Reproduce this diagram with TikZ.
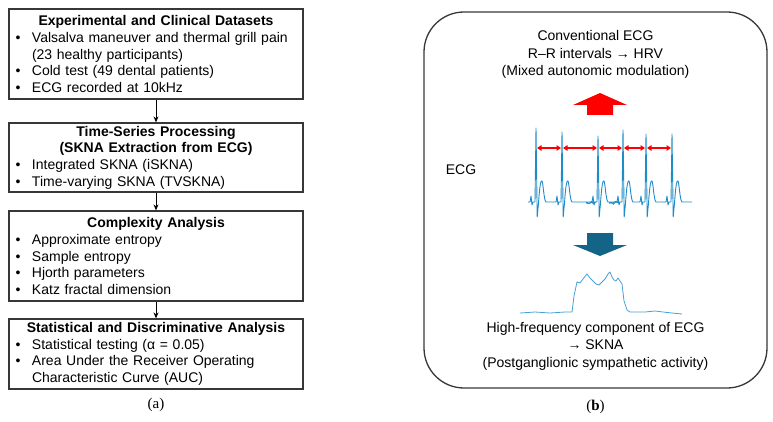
\documentclass[tikz,border=0pt]{standalone}
\usepackage{fontspec}
\setmainfont{Liberation Sans}
\newfontfamily\capfont{Liberation Serif}
\usetikzlibrary{arrows.meta, decorations.pathmorphing}
\definecolor{boxgray}{RGB}{55,55,55}
\definecolor{ecgblue}{RGB}{30,140,200}
\definecolor{sknablue}{RGB}{70,160,215}
\definecolor{arrowteal}{RGB}{20,100,135}
\definecolor{hrvred}{RGB}{255,0,0}

\newcommand{\bitem}{\makebox[19pt][l]{\hspace{2.5pt}\textbullet}}
\newcommand{\bcont}{\hspace*{19pt}}
\newcommand{\stagetitle}[1]{\makebox[286pt][c]{\textbf{#1}}}

\begin{document}
\begin{tikzpicture}[
  x=1pt, y=-1pt,
  every node/.style={font=\fontsize{14}{16.7}\selectfont},
  stagebox/.style={rectangle, draw=boxgray, line width=1.2pt, text width=286pt,
                   inner xsep=4pt, inner ysep=0pt, align=left},
  flow/.style={-{Stealth[length=6pt,width=5pt]}, line width=1pt},
  panel/.style={rectangle, draw=boxgray, line width=1.3pt, rounded corners=40pt,
                minimum width=343pt, minimum height=376pt},
  desc/.style={align=center, font=\fontsize{14}{17.5}\selectfont},
  ecgline/.style={ecgblue, line width=0.9pt, line join=round},
  sknaline/.style={sknablue, line width=0.8pt, line join=round},
  rrarrow/.style={{Triangle[length=4.5pt,width=5.5pt]}-{Triangle[length=4.5pt,width=5.5pt]},
                  hrvred, line width=1.4pt},
  caption/.style={font=\capfont\fontsize{15}{18}\selectfont}
]
\useasboundingbox (0,0) rectangle (773,422);
\pgfmathsetseed{7}

%--- (a) Pipeline ---%
\node[stagebox, minimum height=90pt] (data) at (156,54)
  {\stagetitle{Experimental and Clinical Datasets}\\
   \bitem Valsalva maneuver and thermal grill pain\\
   \bcont(23 healthy participants)\\
   \bitem Cold test (49 dental patients)\\
   \bitem ECG recorded at 10kHz};
\node[stagebox, minimum height=69pt] (proc) at (156,157.5)
  {\stagetitle{Time-Series Processing}\\
   \stagetitle{(SKNA Extraction from ECG)}\\
   \bitem Integrated SKNA (iSKNA)\\
   \bitem Time-varying SKNA (TVSKNA)};
\node[stagebox, minimum height=90pt] (cplx) at (156,256)
  {\stagetitle{Complexity Analysis}\\
   \bitem Approximate entropy\\
   \bitem Sample entropy\\
   \bitem Hjorth parameters\\
   \bitem Katz fractal dimension};
\node[stagebox, minimum height=70pt] (stat) at (156,354)
  {\stagetitle{Statistical and Discriminative Analysis}\\
   \bitem Statistical testing (α = 0.05)\\
   \bitem Area Under the Receiver Operating\\
   \bcont Characteristic Curve (AUC)};

\draw[flow] (data) -- (proc);
\draw[flow] (proc) -- (cplx);
\draw[flow] (cplx) -- (stat);

\node[caption] (capa) at (156,405) {(a)};

%--- (b) ECG panel ---%
\node[panel] (ecgpanel) at (595.5,200) {};
\node[desc] (conv) at (595.5,54.5)
  {Conventional ECG\\R–R intervals → HRV\\(Mixed autonomic modulation)};
\node[desc] (hfc) at (595.5,346)
  {High-frequency component of ECG\\→ SKNA\\(Postganglionic sympathetic activity)};
\node (ecglab) at (461,170) {ECG};

% block arrows
\fill[hrvred] (587,115) -- (587,105) -- (573,105) -- (600,93)
  -- (627,105) -- (613,105) -- (613,115) -- cycle;
\fill[arrowteal] (587,233) -- (613,233) -- (613,245) -- (627,245)
  -- (600,256) -- (573,245) -- (587,245) -- cycle;

% raw ECG trace
\draw[ecgline] (528,202)
  foreach \r/\t in {536/128, 562/132, 598/136, 623/130, 646/134, 672/134} {
    -- ({\r-6},202) -- ({\r-5},196) -- ({\r-4},205) -- ({\r-3},202)
    -- ({\r-1},202) -- (\r,\t) -- ({\r+1.2},217) -- ({\r+2.5},203)
    .. controls ({\r+4},182) and ({\r+5},180) .. ({\r+6},181)
    .. controls ({\r+7},182) and ({\r+8},201) .. ({\r+10},202)
  } -- (692,202);
\draw[ecgline, line width=1.3pt, decorate,
      decoration={random steps, segment length=1.2pt, amplitude=1.4pt}]
  (586,203) -- (595,203);
\draw[ecgline, line width=1.3pt, decorate,
      decoration={random steps, segment length=1.2pt, amplitude=1.4pt}]
  (609,203) -- (620,203);

% R-R intervals
\foreach \r [count=\i] in {536,562,598,623,646,672}
  \coordinate (r\i) at (\r,148);
\foreach \a/\b in {1/2,2/3,3/4,4/5,5/6}
  \draw[rrarrow] ([xshift=1pt]r\a) -- ([xshift=-1pt]r\b);

% SKNA envelope
\draw[sknaline] plot coordinates {(520,313) (535,312) (550,313) (565,312)
  (572,312) (574,296) (577,282) (580,283) (583,279) (587,274) (590,278)
  (593,281) (596,284) (599,285) (602,282) (605,279) (608,274) (610,272)
  (612,277) (614,280) (616,281) (618,278) (620,281) (622,284) (624,301)
  (627,310) (630,312) (645,312) (655,311) (663,312) (672,313) (682,314)};

\node[caption] (capb) at (595.5,407) {(\textbf{b})};

\end{tikzpicture}
\end{document}
